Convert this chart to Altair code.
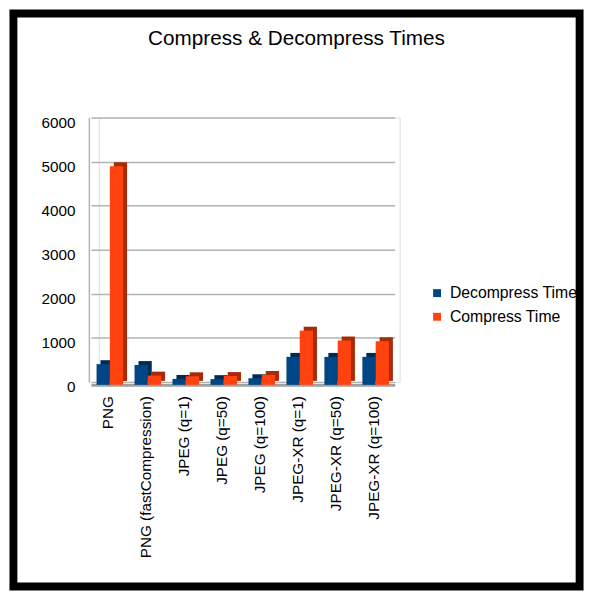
import altair as alt
import pandas as pd

categories = ["PNG", "PNG (fastCompression)", "JPEG (q=1)", "JPEG (q=50)",
              "JPEG (q=100)", "JPEG-XR (q=1)", "JPEG-XR (q=50)", "JPEG-XR (q=100)"]
series = ["Decompress Time", "Compress Time"]
decompress = [470, 450, 135, 130, 150, 635, 635, 635]
compress = [4960, 210, 195, 200, 225, 1230, 1007, 990]
y_ticks = [0, 1000, 2000, 3000, 4000, 5000, 6000]

front_colors = ["#004586", "#ff420e"]
side_colors = ["#002b55", "#a82b08"]

rows = []
for c, d, k in zip(categories, decompress, compress):
    rows.append({"Format": c, "Series": series[0], "Time": d})
    rows.append({"Format": c, "Series": series[1], "Time": k})
df = pd.DataFrame(rows)

FONT = "Liberation Sans"
BAND = 38.5 * 0.7

x_enc = alt.X(
    "Format:N", sort=categories,
    scale=alt.Scale(range=[-8, 300], paddingInner=0.3, paddingOuter=0.15),
    axis=alt.Axis(title=None, labelAngle=270, labelFontSize=15.5, labelFont=FONT,
                  labelColor="#000000", labelPadding=11, labelOffset=-2, offset=3,
                  domain=True, domainColor="#a0a0a0", domainWidth=3,
                  ticks=False, grid=False, labelLimit=300),
)
y_enc = alt.Y(
    "Time:Q",
    scale=alt.Scale(domain=[0, 6000], nice=False),
    axis=alt.Axis(values=y_ticks, title=None, offset=10, labelPadding=14,
                  labelOffset=5, labelFontSize=15.5, labelFont=FONT,
                  labelColor="#000000", format="d", ticks=False,
                  domainColor="#b3b3b3", domainWidth=1.5,
                  gridColor="#b3b3b3", gridWidth=1.5),
)

frame = alt.Chart(pd.DataFrame({"k": [0]})).mark_rect(
    filled=False, stroke="black", strokeWidth=8
).encode(
    x=alt.value(-86.5), x2=alt.value(487.5),
    y=alt.value(-105.5), y2=alt.value(475.5),
)

back = alt.Chart(df).mark_bar(yOffset=-1, y2Offset=0).encode(
    x=x_enc,
    xOffset=alt.XOffset("Series:N", sort=series,
                        scale=alt.Scale(domain=series, range=[4, BAND + 4],
                                        paddingInner=0, paddingOuter=0)),
    y=y_enc,
    color=alt.Color("Series:N", scale=alt.Scale(domain=series, range=side_colors),
                    legend=None),
)

front = alt.Chart(df).mark_bar(yOffset=3, y2Offset=3).encode(
    x=x_enc,
    xOffset=alt.XOffset("Series:N", sort=series,
                        scale=alt.Scale(domain=series, range=[0, BAND],
                                        paddingInner=0, paddingOuter=0)),
    y=y_enc,
    color=alt.Color(
        "Series:N",
        scale=alt.Scale(domain=series, range=front_colors),
        legend=alt.Legend(title=None, orient="none", legendX=335, legendY=170,
                          symbolType="square", symbolSize=64, symbolStrokeWidth=0,
                          labelFontSize=16, labelFont=FONT, labelColor="#000000",
                          rowPadding=8, labelOffset=5, padding=0),
    ),
)

chart = alt.layer(frame, back, front).resolve_scale(
    color="independent", xOffset="independent"
).properties(
    width=305, height=268,
    autosize=alt.AutoSizeParams(type="none"),
    padding={"left": 92, "top": 107, "right": 190, "bottom": 211},
    title=alt.Title("Compress & Decompress Times", fontSize=21, font=FONT,
                    fontWeight="normal", color="#000000", anchor="middle",
                    frame="group", dx=48, offset=0, baseline="alphabetic", dy=56.5),
).configure_view(
    stroke="#b3b3b3", strokeWidth=1.5
).configure(background="white")

chart.save("out.html", embed_options={"renderer": "svg", "actions": False})
